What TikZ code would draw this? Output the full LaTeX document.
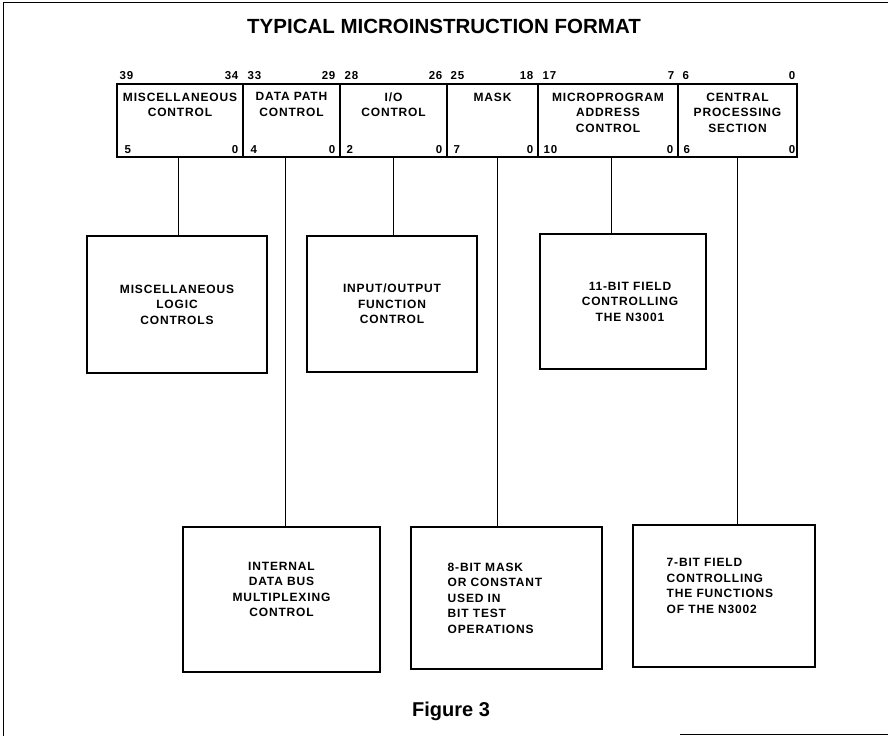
\documentclass[tikz,border=0pt]{standalone}
\usepackage{fontspec}
\setmainfont{Liberation Sans}
\newfontfamily\fieldfont[LetterSpace=7]{Liberation Sans}
\begin{document}
\begin{tikzpicture}[x=1pt,y=-1pt,
  field/.style={draw,line width=1.1pt,minimum height=73pt,inner sep=0pt},
  fbox/.style={draw,line width=1.1pt,inner sep=0pt},
  ftext/.style={font=\fieldfont\bfseries\fontsize{12}{15.5}\selectfont,align=center,inner sep=0pt},
  bitno/.style={font=\fieldfont\bfseries\fontsize{11.5}{14}\selectfont,inner sep=0pt},
  link/.style={line width=0.8pt}]
\useasboundingbox (0,0) rectangle (888,736);
% frame and title
\draw[line width=1pt] (888,2) -- (3,2) -- (3,736);
\draw[line width=1pt] (680,734) -- (888,734);
\node[font=\bfseries\fontsize{20.5}{24}\selectfont] (title) at (444,26) {TYPICAL MICROINSTRUCTION FORMAT};
% microinstruction word
\node[field,minimum width=126pt] (misc) at (180,120.5) {};
\node[field,minimum width=97pt] (dpath) at (291.5,120.5) {};
\node[field,minimum width=107pt] (io) at (393.5,120.5) {};
\node[field,minimum width=91pt] (mask) at (492.5,120.5) {};
\node[field,minimum width=140pt] (upac) at (608,120.5) {};
\node[field,minimum width=119pt] (cps) at (737.5,120.5) {};
\node[ftext,anchor=north] (misct) at ([yshift=-9pt]misc.north) {MISCELLANEOUS\\CONTROL};
\node[ftext,anchor=north] (dpatht) at ([yshift=-9pt]dpath.north) {DATA PATH\\CONTROL};
\node[ftext,anchor=north] (iot) at ([yshift=-9pt]io.north) {I/O\\CONTROL};
\node[ftext,anchor=north] (maskt) at ([yshift=-9pt]mask.north) {MASK};
\node[ftext,anchor=north] (upact) at ([yshift=-9pt]upac.north) {MICROPROGRAM\\ADDRESS\\CONTROL};
\node[ftext,anchor=north] (cpst) at ([yshift=-9pt]cps.north) {CENTRAL\\PROCESSING\\SECTION};
% bit numbers
\node[bitno,anchor=south west] (misc39) at ([xshift=3pt,yshift=4pt]misc.north west) {39};
\node[bitno,anchor=south east] (misc34) at ([xshift=-5pt,yshift=4pt]misc.north east) {34};
\node[bitno,anchor=south west] (misc5) at ([xshift=8pt,yshift=4pt]misc.south west) {5};
\node[bitno,anchor=south east] (misc0) at ([xshift=-5pt,yshift=4pt]misc.south east) {0};
\node[bitno,anchor=south west] (dpath33) at ([xshift=5pt,yshift=4pt]dpath.north west) {33};
\node[bitno,anchor=south east] (dpath29) at ([xshift=-5pt,yshift=4pt]dpath.north east) {29};
\node[bitno,anchor=south west] (dpath4) at ([xshift=8pt,yshift=4pt]dpath.south west) {4};
\node[bitno,anchor=south east] (dpath0) at ([xshift=-5pt,yshift=4pt]dpath.south east) {0};
\node[bitno,anchor=south west] (io28) at ([xshift=5pt,yshift=4pt]io.north west) {28};
\node[bitno,anchor=south east] (io26) at ([xshift=-5pt,yshift=4pt]io.north east) {26};
\node[bitno,anchor=south west] (io2) at ([xshift=7pt,yshift=4pt]io.south west) {2};
\node[bitno,anchor=south east] (io0) at ([xshift=-5pt,yshift=4pt]io.south east) {0};
\node[bitno,anchor=south west] (mask25) at ([xshift=4pt,yshift=4pt]mask.north west) {25};
\node[bitno,anchor=south east] (mask18) at ([xshift=-5pt,yshift=4pt]mask.north east) {18};
\node[bitno,anchor=south west] (mask7) at ([xshift=7pt,yshift=4pt]mask.south west) {7};
\node[bitno,anchor=south east] (mask0) at ([xshift=-5pt,yshift=4pt]mask.south east) {0};
\node[bitno,anchor=south west] (upac17) at ([xshift=5pt,yshift=4pt]upac.north west) {17};
\node[bitno,anchor=south east] (upac7) at ([xshift=-4pt,yshift=4pt]upac.north east) {7};
\node[bitno,anchor=south west] (upac10) at ([xshift=6pt,yshift=4pt]upac.south west) {10};
\node[bitno,anchor=south east] (upac0) at ([xshift=-5pt,yshift=4pt]upac.south east) {0};
\node[bitno,anchor=south west] (cps6) at ([xshift=5pt,yshift=4pt]cps.north west) {6};
\node[bitno,anchor=south east] (cps0) at ([xshift=-2pt,yshift=4pt]cps.north east) {0};
\node[bitno,anchor=south west] (cps6b) at ([xshift=6pt,yshift=4pt]cps.south west) {6};
\node[bitno,anchor=south east] (cps0b) at ([xshift=-2pt,yshift=4pt]cps.south east) {0};
% function boxes
\node[fbox,minimum width=180pt,minimum height=137pt] (logic) at (177,304.5) {};
\node[fbox,minimum width=170pt,minimum height=136pt] (iofn) at (392,304) {};
\node[fbox,minimum width=166pt,minimum height=135pt] (field11) at (623,301.5) {};
\node[fbox,minimum width=197pt,minimum height=145pt] (bus) at (281.5,599.5) {};
\node[fbox,minimum width=191pt,minimum height=142pt] (mask8) at (506.5,598) {};
\node[fbox,minimum width=182pt,minimum height=142pt] (field7) at (724,596) {};
\node[ftext] (logict) at (logic.center) {MISCELLANEOUS\\LOGIC\\CONTROLS};
\node[ftext] (iofnt) at (iofn.center) {INPUT/OUTPUT\\FUNCTION\\CONTROL};
\node[ftext] (field11t) at ([xshift=7pt]field11.center) {11-BIT FIELD\\CONTROLLING\\THE N3001};
\node[ftext] (bust) at ([yshift=10pt]bus.center) {INTERNAL\\DATA BUS\\MULTIPLEXING\\CONTROL};
\node[ftext,align=left,anchor=west] (mask8t) at ([xshift=37pt]mask8.west) {8-BIT MASK\\OR CONSTANT\\USED IN\\BIT TEST\\OPERATIONS};
\node[ftext,align=left,anchor=west] (field7t) at ([xshift=34pt,yshift=10pt]field7.west) {7-BIT FIELD\\CONTROLLING\\THE FUNCTIONS\\OF THE N3002};
% connectors
\coordinate (tap1) at ([xshift=-2pt]misc.south);
\coordinate (tap2) at ([xshift=-6.5pt]dpath.south);
\coordinate (tap3) at ([xshift=-0.5pt]io.south);
\coordinate (tap4) at ([xshift=4.5pt]mask.south);
\coordinate (tap5) at ([xshift=3pt]upac.south);
\coordinate (tap6) at ([xshift=-0.5pt]cps.south);
\draw[link] (tap1) -- (tap1 |- logic.north);
\draw[link] (tap2) -- (tap2 |- bus.north);
\draw[link] (tap3) -- (tap3 |- iofn.north);
\draw[link] (tap4) -- (tap4 |- mask8.north);
\draw[link] (tap5) -- (tap5 |- field11.north);
\draw[link] (tap6) -- (tap6 |- field7.north);
\node[font=\bfseries\fontsize{20}{24}\selectfont,anchor=base] (caption) at (451,716) {Figure 3};
\end{tikzpicture}
\end{document}
